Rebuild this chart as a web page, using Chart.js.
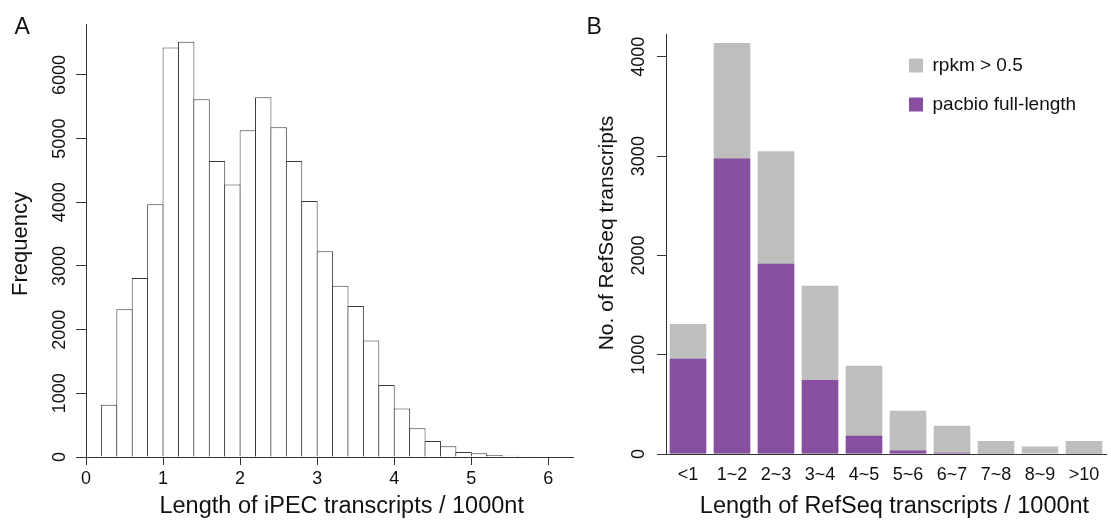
<!DOCTYPE html>
<html>
<head>
<meta charset="utf-8">
<script src="https://cdn.jsdelivr.net/npm/chart.js@4.4.0/dist/chart.umd.min.js"></script>
<style>
  html, body { margin: 0; padding: 0; background: #fff; }
  #wrap { position: relative; width: 1111px; height: 521px; overflow: hidden; }
  #chartA { position: absolute; left: 0; top: 0; }
  #chartB { position: absolute; left: 580px; top: 0; }
</style>
</head>
<body>
<div id="wrap">
  <canvas id="chartA" width="580" height="521"></canvas>
  <canvas id="chartB" width="531" height="521"></canvas>
</div>
<script>
// ---- panel A: histogram of iPEC transcript length (200 nt bins) ----
const binMidsA = [0.3, 0.5, 0.7, 0.9, 1.1, 1.3, 1.5, 1.7, 1.9, 2.1,
                  2.3, 2.5, 2.7, 2.9, 3.1, 3.3, 3.5, 3.7, 3.9, 4.1,
                  4.3, 4.5, 4.7, 4.9, 5.1, 5.3, 5.5, 5.7, 5.9, 6.1];
const countsA = [820, 2320, 2810, 3970, 6430, 6520, 5620, 4650, 4280, 5130,
                 5650, 5180, 4650, 4020, 3230, 2690, 2370, 1830, 1130, 760,
                 450, 250, 170, 80, 60, 30, 20, 12, 6, 3];
const xTicksA = [0, 1, 2, 3, 4, 5, 6];
const yTicksA = [0, 1000, 2000, 3000, 4000, 5000, 6000];

// ---- panel B: RefSeq transcripts by length class ----
const lengthClasses = ['<1', '1~2', '2~3', '3~4', '4~5', '5~6', '6~7', '7~8', '8~9', '>10'];
const rpkmCounts   = [1310, 4140, 3050, 1695, 890, 435, 285, 130, 75, 130];
const pacbioCounts = [960, 2975, 1915, 745, 185, 35, 12, 8, 6, 8];
const yTicksB = [0, 1000, 2000, 3000, 4000];

const axisColor = '#333';
const textColor = '#111';
const fontFamily = '"Liberation Sans", Arial, Helvetica, sans-serif';

Chart.defaults.font.family = fontFamily;
Chart.defaults.color = textColor;

// free text: panel letter and axis titles
const panelText = {
  id: 'panelText',
  afterDraw(chart, args, opts) {
    const ctx = chart.ctx;
    opts.items.forEach(t => {
      ctx.save();
      ctx.fillStyle = textColor;
      ctx.font = t.size + 'px ' + fontFamily;
      ctx.textAlign = t.align || 'center';
      ctx.textBaseline = 'alphabetic';
      ctx.translate(t.x, t.y);
      if (t.rotate) ctx.rotate(-Math.PI / 2);
      ctx.fillText(t.text, 0, 0);
      ctx.restore();
    });
  }
};

// move the chartArea legend to the upper right
const legendSpot = {
  id: 'legendSpot',
  afterLayout(chart, args, opts) {
    const lg = chart.legend;
    if (!lg) return;
    lg.left = opts.left;
    lg.top = opts.top;
    lg.right = lg.left + lg.width;
    lg.bottom = lg.top + lg.height;
  }
};

const tickGrid = len => ({
  display: true, drawOnChartArea: false, drawTicks: true,
  tickLength: len, color: axisColor, lineWidth: 1, offset: false
});

new Chart(document.getElementById('chartA'), {
  type: 'bar',
  data: {
    datasets: [{
      label: 'Frequency',
      data: binMidsA.map((x, i) => ({ x: x, y: countsA[i] })),
      backgroundColor: '#ffffff',
      borderColor: '#3a3a3a',
      borderWidth: 1,
      barPercentage: 1.065,
      categoryPercentage: 1
    }]
  },
  options: {
    responsive: false,
    animation: false,
    events: [],
    layout: { padding: { left: 0, top: 24, right: 7, bottom: 0 } },
    plugins: {
      legend: { display: false },
      tooltip: { enabled: false },
      panelText: {
        items: [
          { text: 'A', x: 14.5, y: 33.5, size: 23, align: 'left' },
          { text: 'Frequency', x: 26.5, y: 244, size: 22, rotate: true },
          { text: 'Length of iPEC transcripts / 1000nt', x: 341.7, y: 513, size: 23.5 }
        ]
      }
    },
    scales: {
      x: {
        type: 'linear', min: 0, max: 6.32, offset: false,
        afterBuildTicks: s => { s.ticks = xTicksA.map(v => ({ value: v })); },
        afterFit: s => { s.height = 64; },
        grid: tickGrid(8),
        border: { display: true, color: axisColor, width: 1 },
        ticks: { padding: 3, font: { size: 18 }, color: textColor, maxRotation: 0, autoSkip: false,
                 callback: v => String(v) }
      },
      y: {
        min: 0, max: 6800,
        afterBuildTicks: s => { s.ticks = yTicksA.map(v => ({ value: v })); },
        afterFit: s => { s.width = 86; },
        grid: tickGrid(10),
        border: { display: true, color: axisColor, width: 1 },
        ticks: { minRotation: 90, maxRotation: 90, crossAlign: 'center', padding: -4.5,
                 font: { size: 18 }, color: textColor, autoSkip: false, callback: v => String(v) }
      }
    }
  },
  plugins: [panelText]
});

new Chart(document.getElementById('chartB'), {
  type: 'bar',
  data: {
    labels: lengthClasses,
    datasets: [
      { label: 'rpkm > 0.5', data: rpkmCounts, backgroundColor: '#bebebe', borderWidth: 0,
        order: 1, grouped: false, barPercentage: 0.83, categoryPercentage: 1 },
      { label: 'pacbio full-length', data: pacbioCounts, backgroundColor: '#884ea0', borderWidth: 0,
        order: 0, grouped: false, barPercentage: 0.83, categoryPercentage: 1 }
    ]
  },
  options: {
    responsive: false,
    animation: false,
    events: [],
    layout: { padding: { left: 0, top: 34, right: 5, bottom: 0 } },
    plugins: {
      tooltip: { enabled: false },
      legend: {
        position: 'chartArea',
        align: 'start',
        labels: { boxWidth: 14, boxHeight: 14, padding: 20, color: textColor, font: { size: 19 },
                  sort: (a, b) => a.datasetIndex - b.datasetIndex }
      },
      legendSpot: { left: 309, top: 36 },
      panelText: {
        items: [
          { text: 'B', x: 6.5, y: 33.5, size: 23, align: 'left' },
          { text: 'No. of RefSeq transcripts', x: 33.3, y: 233, size: 21, rotate: true },
          { text: 'Length of RefSeq transcripts / 1000nt', x: 314.5, y: 513, size: 23.5 }
        ]
      }
    },
    scales: {
      x: {
        type: 'category', offset: true,
        afterFit: s => { s.height = 67; },
        grid: { display: false, drawTicks: false },
        border: { display: true, color: axisColor, width: 1 },
        ticks: { padding: 10, font: { size: 18 }, color: textColor, maxRotation: 0, autoSkip: false }
      },
      y: {
        min: 0, max: 4230,
        afterBuildTicks: s => { s.ticks = yTicksB.map(v => ({ value: v })); },
        afterFit: s => { s.width = 86; },
        grid: tickGrid(9),
        border: { display: true, color: axisColor, width: 1 },
        ticks: { minRotation: 90, maxRotation: 90, crossAlign: 'center', padding: -2,
                 font: { size: 18 }, color: textColor, autoSkip: false, callback: v => String(v) }
      }
    }
  },
  plugins: [panelText, legendSpot]
});
</script>
</body>
</html>
